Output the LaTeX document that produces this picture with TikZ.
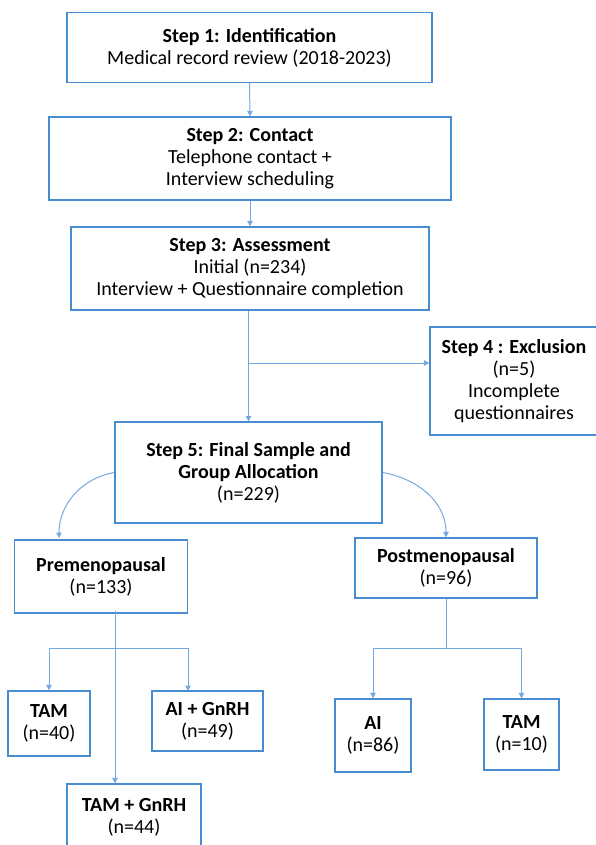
\documentclass[tikz,border=0pt]{standalone}
\usepackage{fontspec}
\setmainfont{Carlito}
\usetikzlibrary{positioning,arrows.meta}
\definecolor{boxblue}{RGB}{72,140,210}
\definecolor{lineblue}{RGB}{115,168,224}
\tikzset{%
  flowarrow/.style = {-{Triangle[length=5.5pt,width=5.5pt]},draw=lineblue,
        line width=1pt},
  flowline/.style = {draw=lineblue,line width=1pt},
  b/.style = {rectangle,draw=boxblue,line width=1.3pt,inner sep=0pt,
        font=\fontsize{20}{22}\selectfont}
}

\begin{document}
\begin{tikzpicture}[
every text node part/.style={align=center}
]
\useasboundingbox (0,0) rectangle (596pt,-845pt);
% main steps
\node[b,minimum width=365pt,minimum height=70pt] (s1) at (249.5pt,-47.5pt)
    {\textbf{Step 1: Identification}\\Medical record review (2018-2023)};
\node[b,minimum width=402pt,minimum height=83pt] (s2) at (250pt,-158.5pt)
    {\textbf{Step 2: Contact}\\Telephone contact +\\Interview scheduling};
\node[b,minimum width=358pt,minimum height=83pt] (s3) at (250pt,-268.5pt)
    {\textbf{Step 3: Assessment}\\Initial (n=234)\\Interview + Questionnaire completion};
\node[b,minimum width=168pt,minimum height=108pt] (s4) at (514pt,-381pt)
    {\textbf{Step 4 : Exclusion}\\(n=5)\\Incomplete\\questionnaires};
\node[b,minimum width=267pt,minimum height=101pt] (s5) at (248.5pt,-472.5pt)
    {\textbf{Step 5: Final Sample and}\\\textbf{Group Allocation}\\(n=229)};
% groups
\node[b,minimum width=173pt,minimum height=73pt] (pre) at (101pt,-576.5pt)
    {\textbf{Premenopausal}\\(n=133)};
\node[b,minimum width=182pt,minimum height=60pt] (post) at (446pt,-568pt)
    {\textbf{Postmenopausal}\\(n=96)};
% treatments
\node[b,minimum width=82pt,minimum height=65pt] (tam1) at (49pt,-723.5pt)
    {\textbf{TAM}\\(n=40)};
\node[b,minimum width=111pt,minimum height=60pt] (aig) at (207.5pt,-721pt)
    {\textbf{AI + GnRH}\\(n=49)};
\node[b,minimum width=134pt,minimum height=66pt] (tamg) at (134pt,-817pt)
    {\textbf{TAM + GnRH}\\(n=44)};
\node[b,minimum width=76pt,minimum height=73pt] (ai) at (373pt,-735.5pt)
    {\textbf{AI}\\(n=86)};
\node[b,minimum width=75pt,minimum height=71pt] (tam2) at (521.5pt,-734.5pt)
    {\textbf{TAM}\\(n=10)};

\coordinate (j1) at (249pt,-363pt);
\coordinate (preTop) at (59pt,-538pt);
\coordinate (preTrunk) at (115pt,-611pt);
\coordinate (preBr) at (115pt,-648pt);
\coordinate (aigIn) at (188pt,-691pt);
\coordinate (postBr) at (446pt,-648pt);

\draw[flowarrow] (s1.south) -- (s2.north);
\draw[flowarrow] (s2.south) -- (s3.north);
\draw[flowarrow] (s5.north |- s3.south) -- (s5.north);
\draw[flowarrow] (j1) -- (j1 -| s4.west);
\draw[flowarrow] (s5.west) to[out=190,in=90] (preTop);
\draw[flowarrow] (s5.east) to[out=-10,in=90] (post.north);
\draw[flowarrow] (preTrunk) -- (preTrunk |- tamg.north);
\draw[flowarrow] (preBr) -| (tam1.north);
\draw[flowarrow] (preBr) -| (aigIn);
\draw[flowline] (post.south) -- (postBr);
\draw[flowarrow] (postBr) -| (ai.north);
\draw[flowarrow] (postBr) -| (tam2.north);
\end{tikzpicture}
\end{document}
